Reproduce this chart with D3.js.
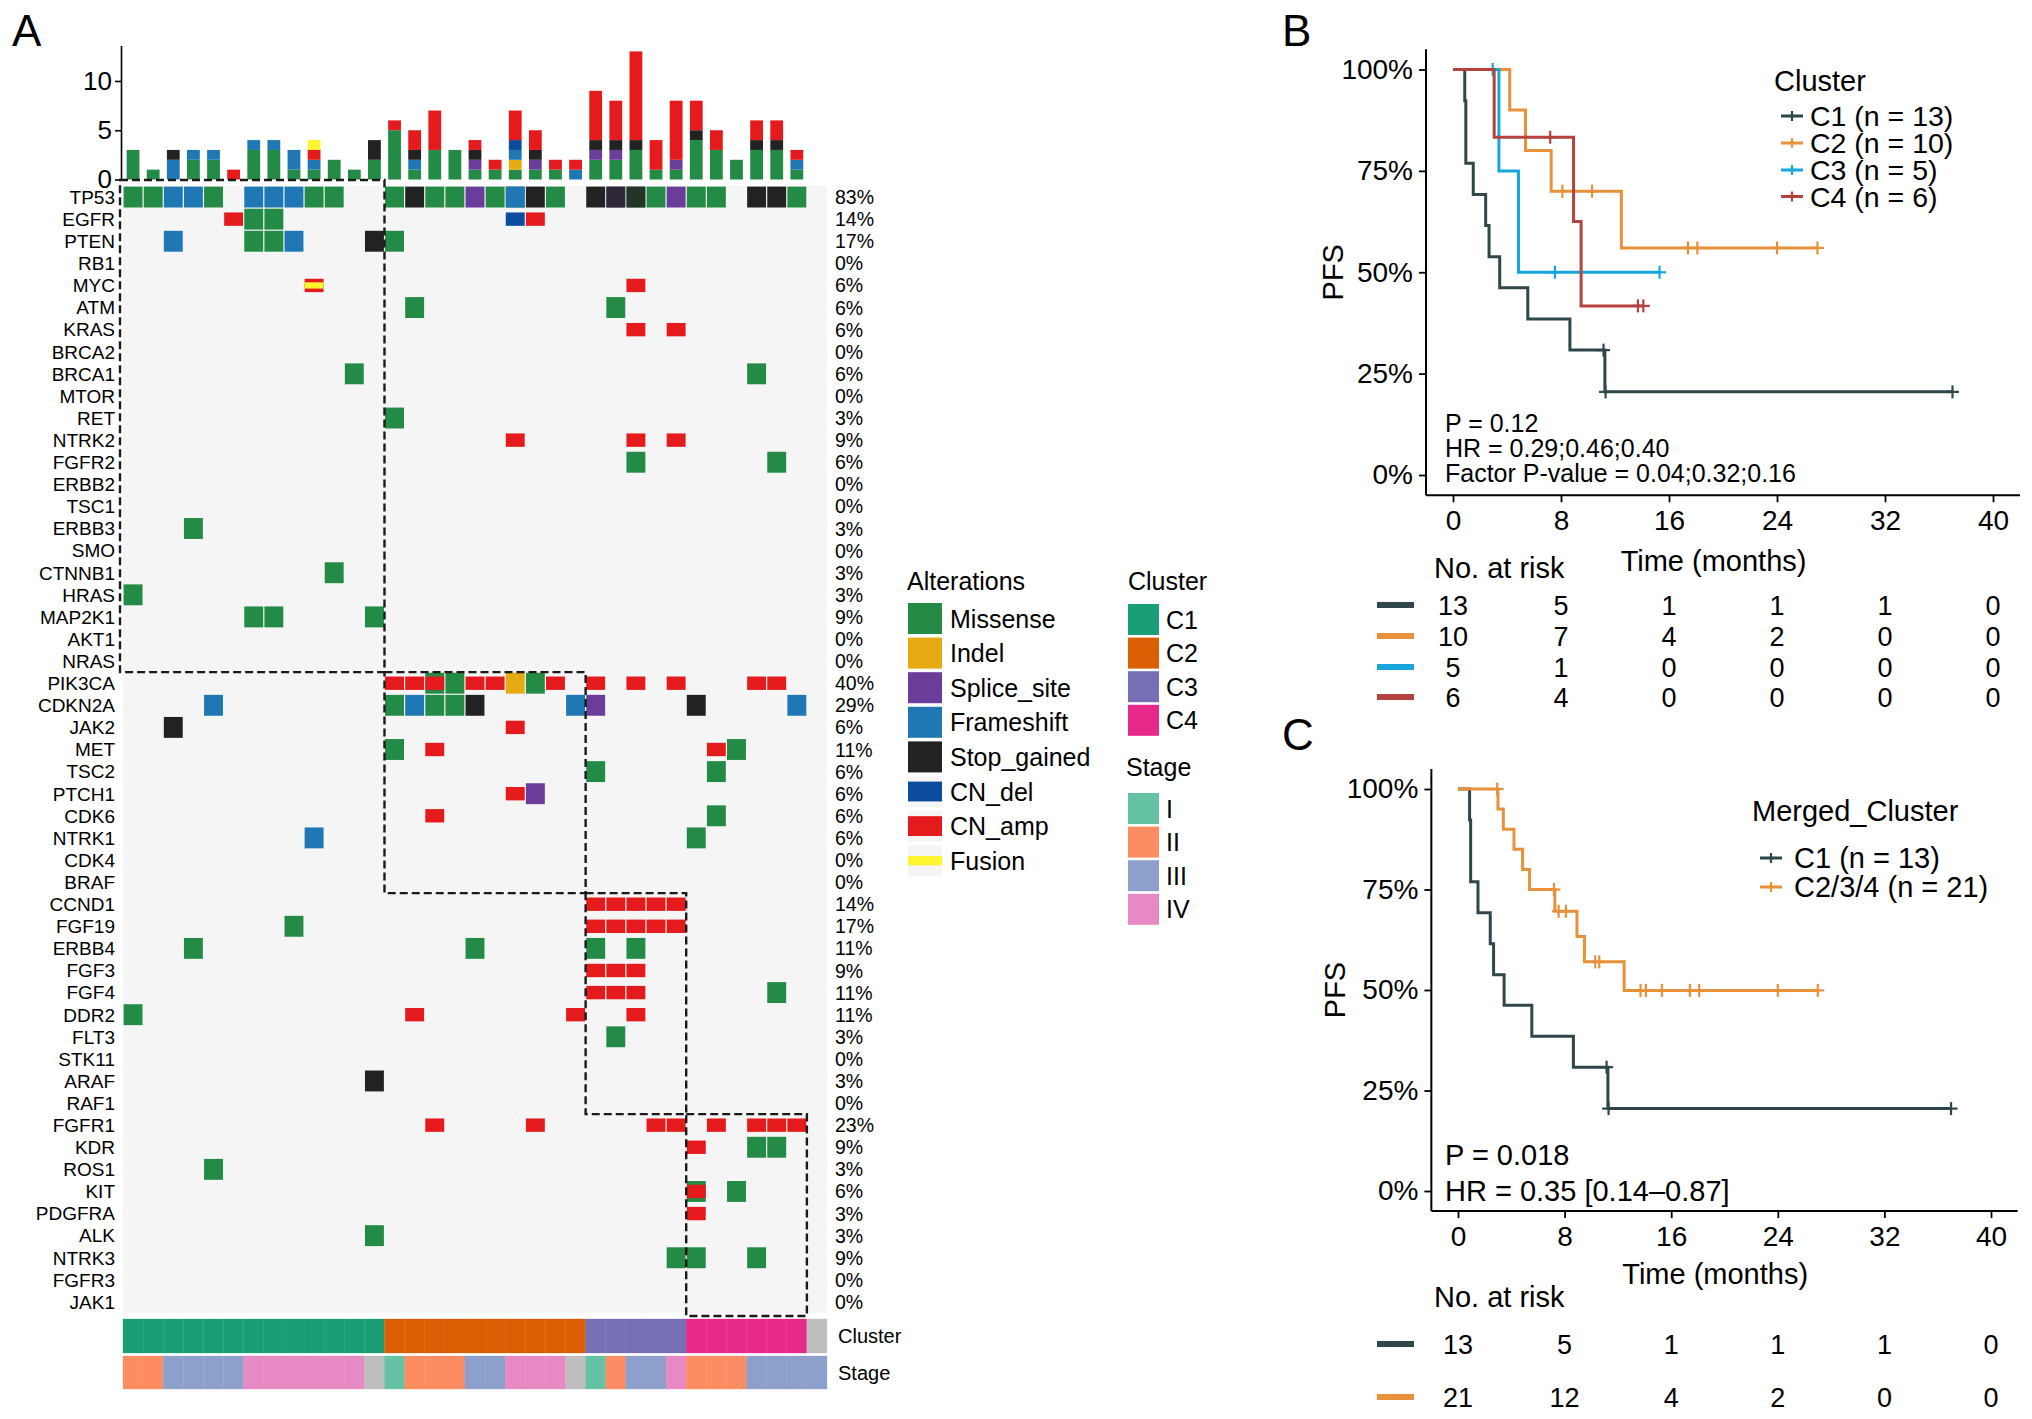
<!DOCTYPE html>
<html><head><meta charset="utf-8">
<script src="https://cdn.jsdelivr.net/npm/d3@7"></script>
<style>
body{margin:0;background:#fff}
svg{display:block}
text{font-family:"Liberation Sans",Arial,Helvetica,sans-serif;fill:#000}
</style>
</head><body>
<svg id="chart" width="2032" height="1419"></svg>
<script>
// ---------------- DATA ----------------
const genes = ["TP53","EGFR","PTEN","RB1","MYC","ATM","KRAS","BRCA2","BRCA1","MTOR","RET","NTRK2","FGFR2","ERBB2","TSC1","ERBB3","SMO","CTNNB1","HRAS","MAP2K1","AKT1","NRAS",
  "PIK3CA","CDKN2A","JAK2","MET","TSC2","PTCH1","CDK6","NTRK1","CDK4","BRAF",
  "CCND1","FGF19","ERBB4","FGF3","FGF4","DDR2","FLT3","STK11","ARAF","RAF1",
  "FGFR1","KDR","ROS1","KIT","PDGFRA","ALK","NTRK3","FGFR3","JAK1"];
const pctLabels = ["83%","14%","17%","0%","6%","6%","6%","0%","6%","0%","3%","9%","6%","0%","0%","3%","0%","3%","3%","9%","0%","0%",
  "40%","29%","6%","11%","6%","6%","6%","6%","0%","0%",
  "14%","17%","11%","9%","11%","11%","3%","0%","3%","0%",
  "23%","9%","3%","6%","3%","3%","9%","0%","0%"];
const sampleIds = d3.range(35);
const sampleCluster = ["C1","C1","C1","C1","C1","C1","C1","C1","C1","C1","C1","C1","C1",
  "C2","C2","C2","C2","C2","C2","C2","C2","C2","C2",
  "C3","C3","C3","C3","C3","C4","C4","C4","C4","C4","C4","NA"];
const sampleStage = ["II","II","III","III","III","III","IV","IV","IV","IV","IV","IV","NA",
  "I","II","II","II","III","III","IV","IV","IV","NA",
  "I","II","III","III","IV","II","II","II","III","III","III","III"];
const alterationTypes = ["Missense","Indel","Splice_site","Frameshift","Stop_gained","CN_del","CN_amp","Fusion"];
const alterationColors = ["#238B45","#E6AA12","#6A3D9A","#1F78B4","#222222","#0B4C9E","#E41A1C","#FFF52E"];
const typeCodes = {M:"Missense",I:"Indel",S:"Splice_site",F:"Frameshift",X:"Stop_gained",D:"CN_del",A:"CN_amp",U:"Fusion"};
// [gene, sample, alteration codes]
const alterations = [
 ["TP53",0,"M"],["TP53",1,"M"],["TP53",2,"F"],["TP53",3,"F"],["TP53",4,"M"],["TP53",6,"F"],["TP53",7,"F"],["TP53",8,"F"],
 ["TP53",9,"M"],["TP53",10,"M"],["TP53",13,"M"],["TP53",14,"X"],["TP53",15,"M"],["TP53",16,"M"],["TP53",17,"S"],["TP53",18,"M"],
 ["TP53",19,"M;F"],["TP53",20,"X"],["TP53",21,"M"],["TP53",23,"X"],["TP53",24,"S;X"],["TP53",25,"M;X"],["TP53",26,"M"],["TP53",27,"S"],
 ["TP53",28,"M"],["TP53",29,"M"],["TP53",31,"X"],["TP53",32,"X"],["TP53",33,"M"],
 ["EGFR",5,"A"],["EGFR",6,"M"],["EGFR",7,"M"],["EGFR",19,"D"],["EGFR",20,"A"],
 ["PTEN",2,"F"],["PTEN",6,"M"],["PTEN",7,"M"],["PTEN",8,"F"],["PTEN",12,"X"],["PTEN",13,"M"],
 ["MYC",9,"A;U"],["MYC",25,"A"],
 ["ATM",14,"M"],["ATM",24,"M"],
 ["KRAS",25,"A"],["KRAS",27,"A"],
 ["BRCA1",11,"M"],["BRCA1",31,"M"],
 ["RET",13,"M"],
 ["NTRK2",19,"A"],["NTRK2",25,"A"],["NTRK2",27,"A"],
 ["FGFR2",25,"M"],["FGFR2",32,"M"],
 ["ERBB3",3,"M"],["CTNNB1",10,"M"],["HRAS",0,"M"],
 ["MAP2K1",6,"M"],["MAP2K1",7,"M"],["MAP2K1",12,"M"],
 ["PIK3CA",13,"A"],["PIK3CA",14,"A"],["PIK3CA",15,"M;A"],["PIK3CA",16,"M"],["PIK3CA",17,"A"],["PIK3CA",18,"A"],["PIK3CA",19,"I"],
 ["PIK3CA",20,"M"],["PIK3CA",21,"A"],["PIK3CA",23,"A"],["PIK3CA",25,"A"],["PIK3CA",27,"A"],["PIK3CA",31,"A"],["PIK3CA",32,"A"],
 ["CDKN2A",4,"F"],["CDKN2A",13,"M"],["CDKN2A",14,"F"],["CDKN2A",15,"M"],["CDKN2A",16,"M"],["CDKN2A",17,"X"],["CDKN2A",22,"F"],
 ["CDKN2A",23,"S"],["CDKN2A",28,"X"],["CDKN2A",33,"F"],
 ["JAK2",2,"X"],["JAK2",19,"A"],
 ["MET",13,"M"],["MET",15,"A"],["MET",29,"A"],["MET",30,"M"],
 ["TSC2",23,"M"],["TSC2",29,"M"],
 ["PTCH1",19,"A"],["PTCH1",20,"S"],
 ["CDK6",15,"A"],["CDK6",29,"M"],
 ["NTRK1",9,"F"],["NTRK1",28,"M"],
 ["CCND1",23,"A"],["CCND1",24,"A"],["CCND1",25,"A"],["CCND1",26,"A"],["CCND1",27,"A"],
 ["FGF19",8,"M"],["FGF19",23,"A"],["FGF19",24,"A"],["FGF19",25,"A"],["FGF19",26,"A"],["FGF19",27,"A"],
 ["ERBB4",3,"M"],["ERBB4",17,"M"],["ERBB4",23,"M"],["ERBB4",25,"M"],
 ["FGF3",23,"A"],["FGF3",24,"A"],["FGF3",25,"A"],
 ["FGF4",23,"A"],["FGF4",24,"A"],["FGF4",25,"A"],["FGF4",32,"M"],
 ["DDR2",0,"M"],["DDR2",14,"A"],["DDR2",22,"A"],["DDR2",25,"A"],
 ["FLT3",24,"M"],["ARAF",12,"X"],
 ["FGFR1",15,"A"],["FGFR1",20,"A"],["FGFR1",26,"A"],["FGFR1",27,"A"],["FGFR1",29,"A"],["FGFR1",31,"A"],["FGFR1",32,"A"],["FGFR1",33,"A"],
 ["KDR",28,"A"],["KDR",31,"M"],["KDR",32,"M"],
 ["ROS1",4,"M"],["KIT",28,"M;A"],["KIT",30,"M"],["PDGFRA",28,"A"],["ALK",12,"M"],
 ["NTRK3",27,"M"],["NTRK3",28,"M"],["NTRK3",31,"M"]
];
const clusterBlocks = [["C1","TP53","NRAS"],["C2","PIK3CA","BRAF"],["C3","CCND1","RAF1"],["C4","FGFR1","JAK1"]];
const clusterLevels = ["C1","C2","C3","C4"];
const clusterColors = ["#1B9E77","#D95F02","#7570B3","#E7298A"];
const stageLevels = ["I","II","III","IV"];
const stageColors = ["#66C2A5","#FC8D62","#8DA0CB","#E78AC3"];
const naColor = "#BEBEBE";
const barTicks = [0,5,10];

// KM data
const timeTicks = [0,8,16,24,32,40];
const pfsTicks = [0,0.25,0.5,0.75,1];
const pfsTickLabels = ["0%","25%","50%","75%","100%"];
const c1Time = [0,0.87,0.95,1.5,2.42,2.67,3.46,5.54,8.66,11.25,37];
const c1Surv = [1,0.923,0.769,0.692,0.615,0.538,0.462,0.385,0.308,0.205,0.205];
const c1CensT = [11.15,11.3,37];
const c1CensS = [0.308,0.205,0.205];
const c2Time = [0,4.2,5.37,7.27,12.47,27.0];
const c2Surv = [1,0.9,0.8,0.7,0.56,0.56];
const c2CensT = [8.1,10.3,17.4,18.1,24,27.0];
const c2CensS = [0.7,0.7,0.56,0.56,0.56,0.56];
const c3Time = [0,3.4,4.85,15.3];
const c3Surv = [1,0.75,0.5,0.5];
const c3CensT = [2.94,7.55,15.3];
const c3CensS = [1,0.5,0.5];
const c4Time = [0,3.05,8.93,9.49,14.1];
const c4Surv = [1,0.833,0.625,0.417,0.417];
const c4CensT = [7.2,13.7,14.1];
const c4CensS = [0.833,0.417,0.417];
const mTime = [0,3.0,3.4,4.2,4.85,5.37,7.27,8.93,9.49,12.47,27.0];
const mSurv = [1,0.95,0.9,0.85,0.8,0.75,0.696,0.633,0.57,0.499,0.499];
const mCensT = [2.94,7.2,7.55,8.1,10.3,10.6,13.7,14.1,15.3,17.4,18.1,24,27.0];
const mCensS = [1,0.75,0.696,0.696,0.57,0.57,0.499,0.499,0.499,0.499,0.499,0.499,0.499];
const groupNamesB = ["C1 (n = 13)","C2 (n = 10)","C3 (n = 5)","C4 (n = 6)"];
const groupColorsB = ["#2F474B","#E8913B","#16A6DC","#B4423F"];
const groupNamesC = ["C1 (n = 13)","C2/3/4 (n = 21)"];
const groupColorsC = ["#2F474B","#E8913B"];
const riskB = [[13,5,1,1,1,0],[10,7,4,2,0,0],[5,1,0,0,0,0],[6,4,0,0,0,0]];
const riskC = [[13,5,1,1,1,0],[21,12,4,2,0,0]];
const annotB = ["P = 0.12","HR = 0.29;0.46;0.40","Factor P-value = 0.04;0.32;0.16"];
const annotC = ["P = 0.018","HR = 0.35 [0.14\u20130.87]"];

// ---------------- DRAW ----------------
const svg = d3.select("#chart");
svg.append("rect").attr("width",2032).attr("height",1419).attr("fill","#fff");
const colorOfType = d3.scaleOrdinal().domain(alterationTypes).range(alterationColors);
const colorOfCluster = t => t==="NA" ? naColor : clusterColors[clusterLevels.indexOf(t)];
const colorOfStage = t => t==="NA" ? naColor : stageColors[stageLevels.indexOf(t)];

// ---- Panel A ----
const gA = svg.append("g");
const xS = d3.scaleBand().domain(sampleIds).range([123, 827]);
const yG = d3.scaleBand().domain(genes).range([186, 1313]);
gA.append("rect").attr("x",123).attr("y",186).attr("width",704).attr("height",1127).attr("fill","#F5F5F5");

const heightFrac = {Missense:1,Indel:1,Splice_site:1,Frameshift:1,Stop_gained:1,CN_del:0.64,CN_amp:0.64,Fusion:0.3};
const rowH = yG.bandwidth();
alterations.forEach(([gene,s,codes]) => {
  codes.split(";").forEach((c,i) => {
    const t = typeCodes[c];
    const h = (rowH-1.2)*heightFrac[t];
    gA.append("rect")
      .attr("x", xS(s)+0.6).attr("y", yG(gene)+rowH/2-h/2)
      .attr("width", xS.bandwidth()-1.2).attr("height", h)
      .attr("fill", colorOfType(t))
      .attr("fill-opacity", (i>0 && t==="Stop_gained") ? 0.82 : 1);
  });
});

// gene & pct labels
gA.selectAll("text.gene").data(genes).enter().append("text")
  .attr("x",115).attr("y",d=>yG(d)+rowH/2).attr("dy","0.36em")
  .attr("text-anchor","end").attr("font-size",19).text(d=>d);
gA.selectAll("text.pct").data(pctLabels).enter().append("text")
  .attr("x",835).attr("y",(d,i)=>yG(genes[i])+rowH/2).attr("dy","0.36em")
  .attr("font-size",19.5).text(d=>d);

// top bar chart
const counts = sampleIds.map(s => {
  const m = {}; alterationTypes.forEach(t=>m[t]=0);
  alterations.filter(a=>a[1]===s).forEach(a=>a[2].split(";").forEach(c=>m[typeCodes[c]]++));
  return m;
});
const stacked = d3.stack().keys(alterationTypes)(counts);
const yBar = d3.scaleLinear().domain([0,13.6]).range([179.5,45.5]);
const barW = 12.8;
stacked.forEach(layer => {
  gA.append("g").selectAll("rect").data(layer).enter().append("rect")
    .attr("x",(d,i)=>xS(i)+(xS.step()-barW)/2)
    .attr("y",d=>yBar(d[1])).attr("width",barW)
    .attr("height",d=>Math.max(0,yBar(d[0])-yBar(d[1])))
    .attr("fill",colorOfType(layer.key));
});
const barAxis = gA.append("g").attr("transform","translate(121,0)")
  .call(d3.axisLeft(yBar).tickValues(barTicks).tickSize(6).tickSizeOuter(0).tickPadding(3));
barAxis.selectAll("text").attr("font-size",26).style("font-family",'"Liberation Sans",Arial,sans-serif');
barAxis.selectAll("line,path").attr("stroke","#000").attr("stroke-width",1.6);

// cluster blocks (dashed boxes)
clusterBlocks.forEach(([cl,g0,g1],k) => {
  const cols = sampleIds.filter(s=>sampleCluster[s]===cl);
  const x0 = xS(cols[0]) - (k===0?3:0), x1 = xS(cols[cols.length-1]) + xS.step();
  const y0 = k===0 ? 180 : yG(g0), y1 = yG(g1) + rowH + (k===3?3:0);
  gA.append("rect").attr("x",x0).attr("y",y0).attr("width",x1-x0).attr("height",y1-y0)
    .attr("fill","none").attr("stroke","#1a1a1a").attr("stroke-width",2.4).attr("stroke-dasharray","8,4");
});

// annotation bars
gA.selectAll("rect.cl").data(sampleIds).enter().append("rect")
  .attr("x",d=>xS(d)).attr("y",1319).attr("width",xS.step()).attr("height",34)
  .attr("fill",d=>colorOfCluster(sampleCluster[d])).attr("stroke",d=>colorOfCluster(sampleCluster[d])).attr("stroke-width",0.3);
gA.selectAll("rect.st").data(sampleIds).enter().append("rect")
  .attr("x",d=>xS(d)).attr("y",1356).attr("width",xS.step()).attr("height",33)
  .attr("fill",d=>colorOfStage(sampleStage[d])).attr("stroke",d=>colorOfStage(sampleStage[d])).attr("stroke-width",0.3);
gA.append("text").attr("x",838).attr("y",1336).attr("dy","0.36em").attr("font-size",20).text("Cluster");
gA.append("text").attr("x",838).attr("y",1372.5).attr("dy","0.36em").attr("font-size",20).text("Stage");

gA.append("text").attr("x",12).attr("y",46).attr("font-size",44).text("A");

// legends
const gL = svg.append("g");
gL.append("text").attr("x",907).attr("y",590).attr("font-size",25).text("Alterations");
alterationTypes.forEach((t,i) => {
  const yy = 603 + i*34.6;
  gL.append("rect").attr("x",908).attr("y",yy).attr("width",34).attr("height",31).attr("fill","#F5F5F5");
  const h = 31*heightFrac[t];
  gL.append("rect").attr("x",908).attr("y",yy+15.5-h/2).attr("width",34).attr("height",h).attr("fill",alterationColors[i]);
  gL.append("text").attr("x",950).attr("y",yy+15.5).attr("dy","0.36em").attr("font-size",25).text(t);
});
gL.append("text").attr("x",1128).attr("y",590).attr("font-size",25).text("Cluster");
clusterLevels.forEach((t,i) => {
  const yy = 604 + i*33.6;
  gL.append("rect").attr("x",1128).attr("y",yy).attr("width",31).attr("height",31).attr("fill",clusterColors[i]);
  gL.append("text").attr("x",1166).attr("y",yy+15.5).attr("dy","0.36em").attr("font-size",25).text(t);
});
gL.append("text").attr("x",1126).attr("y",776).attr("font-size",25).text("Stage");
stageLevels.forEach((t,i) => {
  const yy = 793 + i*33.6;
  gL.append("rect").attr("x",1128).attr("y",yy).attr("width",31).attr("height",31).attr("fill",stageColors[i]);
  gL.append("text").attr("x",1166).attr("y",yy+15.5).attr("dy","0.36em").attr("font-size",25).text(t);
});

// ---- KM panels ----
function plus(g, cx, cy, col, s) {
  g.append("line").attr("x1",cx-s).attr("x2",cx+s).attr("y1",cy).attr("y2",cy).attr("stroke",col).attr("stroke-width",2.2);
  g.append("line").attr("x1",cx).attr("x2",cx).attr("y1",cy-s).attr("y2",cy+s).attr("stroke",col).attr("stroke-width",2.2);
}
function drawKM(cfg) {
  const g = svg.append("g");
  const x = d3.scaleLinear().domain([0,40]).range(cfg.xr);
  const y = d3.scaleLinear().domain([0,1]).range(cfg.yr);
  const xl = x(-2), xrr = x(42), yb = y(-0.05), yt = y(1.05);
  // curves
  cfg.series.forEach(s => {
    const pts = s.t.map((t,i)=>[t,s.s[i]]);
    g.append("path").datum(pts)
      .attr("d", d3.line().x(d=>x(d[0])).y(d=>y(d[1])).curve(d3.curveStepAfter))
      .attr("fill","none").attr("stroke",s.col).attr("stroke-width",3);
    s.ct.forEach((t,i)=>plus(g, x(t), y(s.cs[i]), s.col, 6.5));
  });
  // axes
  const ax = g.append("g").attr("transform",`translate(0,${yb})`)
    .call(d3.axisBottom(x).tickValues(timeTicks).tickSize(7).tickSizeOuter(0).tickPadding(8));
  ax.select(".domain").remove();
  ax.selectAll("text").attr("font-size",28).style("font-family",'"Liberation Sans",Arial,sans-serif');
  ax.selectAll("line").attr("stroke","#000").attr("stroke-width",1.8);
  const ay = g.append("g").attr("transform",`translate(${xl},0)`)
    .call(d3.axisLeft(y).tickValues(pfsTicks).tickFormat((d,i)=>pfsTickLabels[i]).tickSize(7).tickSizeOuter(0).tickPadding(6));
  ay.select(".domain").remove();
  ay.selectAll("text").attr("font-size",28).style("font-family",'"Liberation Sans",Arial,sans-serif');
  ay.selectAll("line").attr("stroke","#000").attr("stroke-width",1.8);
  g.append("line").attr("x1",xl).attr("x2",xrr).attr("y1",yb).attr("y2",yb).attr("stroke","#000").attr("stroke-width",2);
  g.append("line").attr("x1",xl).attr("x2",xl).attr("y1",yt).attr("y2",yb).attr("stroke","#000").attr("stroke-width",2);
  // labels
  g.append("text").attr("transform",`translate(${cfg.pfsX},${(yt+yb)/2}) rotate(-90)`).attr("dy","0.36em")
    .attr("text-anchor","middle").attr("font-size",29).text("PFS");
  g.append("text").attr("x",x(19.3)).attr("y",cfg.timeY).attr("text-anchor","middle").attr("font-size",29).text("Time (months)");
  g.append("text").attr("x",cfg.panelX).attr("y",cfg.panelY).attr("font-size",44).text(cfg.panel);
  // annotation
  cfg.annot.forEach((a,i)=>g.append("text").attr("x",1445).attr("y",cfg.annotY[i]).attr("font-size",cfg.annotSize).text(a));
  // legend
  g.append("text").attr("x",cfg.legX).attr("y",cfg.legTitleY).attr("font-size",29).text(cfg.legTitle);
  cfg.series.forEach((s,i) => {
    const yy = cfg.legY[i];
    g.append("line").attr("x1",cfg.legSymX).attr("x2",cfg.legSymX+22).attr("y1",yy).attr("y2",yy).attr("stroke",s.col).attr("stroke-width",3);
    plus(g, cfg.legSymX+11, yy, s.col, 5);
    g.append("text").attr("x",cfg.legTextX).attr("y",yy).attr("dy","0.36em").attr("font-size",cfg.legSize).text(s.name);
  });
  // risk table
  g.append("text").attr("x",1434).attr("y",cfg.riskTitleY).attr("font-size",29).text("No. at risk");
  cfg.risk.forEach((row,i) => {
    const yy = cfg.riskY[i];
    g.append("line").attr("x1",1377).attr("x2",1414).attr("y1",yy).attr("y2",yy).attr("stroke",cfg.series[i].col).attr("stroke-width",6);
    row.forEach((v,j)=>g.append("text").attr("x",x(timeTicks[j])).attr("y",yy).attr("dy","0.36em")
      .attr("text-anchor","middle").attr("font-size",27).text(v));
  });
}

drawKM({
  xr:[1453,1993], yr:[475,69.5], panel:"B", panelX:1282, panelY:46, pfsX:1333, timeY:571,
  series:[
    {t:c1Time,s:c1Surv,ct:c1CensT,cs:c1CensS,col:groupColorsB[0],name:groupNamesB[0]},
    {t:c2Time,s:c2Surv,ct:c2CensT,cs:c2CensS,col:groupColorsB[1],name:groupNamesB[1]},
    {t:c3Time,s:c3Surv,ct:c3CensT,cs:c3CensS,col:groupColorsB[2],name:groupNamesB[2]},
    {t:c4Time,s:c4Surv,ct:c4CensT,cs:c4CensS,col:groupColorsB[3],name:groupNamesB[3]}
  ],
  annot:annotB, annotY:[432,457,482], annotSize:25,
  legTitle:"Cluster", legX:1774, legTitleY:91, legY:[116,143,170,196.5], legSymX:1781, legTextX:1810, legSize:28.5,
  risk:riskB, riskTitleY:578, riskY:[605,636,667,697]
});
drawKM({
  xr:[1458,1991], yr:[1191,789], panel:"C", panelX:1282, panelY:750, pfsX:1335, timeY:1284,
  series:[
    {t:c1Time,s:c1Surv,ct:c1CensT,cs:c1CensS,col:groupColorsC[0],name:groupNamesC[0]},
    {t:mTime,s:mSurv,ct:mCensT,cs:mCensS,col:groupColorsC[1],name:groupNamesC[1]}
  ],
  annot:annotC, annotY:[1165,1201], annotSize:29,
  legTitle:"Merged_Cluster", legX:1752, legTitleY:821, legY:[858,887], legSymX:1760, legTextX:1794, legSize:29,
  risk:riskC, riskTitleY:1307, riskY:[1344,1397]
});
</script>
</body></html>
